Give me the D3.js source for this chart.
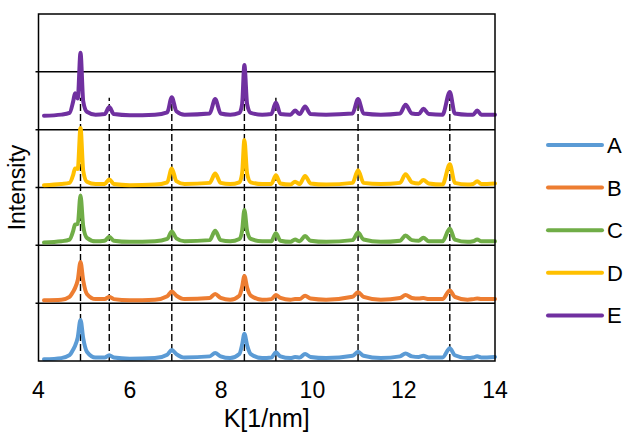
<!DOCTYPE html>
<html>
<head>
  <meta charset="UTF-8">
  <style>
    body { margin: 0; background: #fff; font-family: "Liberation Sans", Arial, sans-serif; }
    svg { display: block; }
  </style>
</head>
<body>
<svg id="chart" width="624" height="442"></svg>
<script src="https://d3js.org/d3.v7.min.js"></script>
<script>
  // sample positions along K (shared by all five spectra)
  var kValues = [4.12, 4.5, 4.68, 4.76, 4.80, 4.86, 4.92, 4.98, 5.06, 5.25,
                 5.45, 5.55, 5.65, 6.0, 6.55, 6.82, 6.92, 7.02, 7.2, 7.75,
                 7.87, 7.99, 8.2, 8.40, 8.46, 8.51, 8.57, 8.65, 8.9, 9.1,
                 9.2, 9.3, 9.52, 9.62, 9.72, 9.84, 9.96, 10.3, 10.88, 11.0,
                 11.12, 11.5, 11.92, 12.04, 12.18, 12.33, 12.43, 12.55, 12.85, 13.01,
                 13.12, 13.4, 13.52, 13.61, 13.7, 14.0];

  // intensity above each spectrum's own baseline
  var seriesA = [0.00, 0.02, 0.07, 0.17, 0.23, 0.38, 0.68, 0.36, 0.13, 0.03,
                 0.03, 0.07, 0.03, 0.01, 0.02, 0.08, 0.16, 0.09, 0.03, 0.05,
                 0.11, 0.05, 0.02, 0.09, 0.25, 0.44, 0.24, 0.09, 0.02, 0.03,
                 0.12, 0.05, 0.02, 0.04, 0.03, 0.09, 0.04, 0.02, 0.06, 0.13,
                 0.06, 0.02, 0.05, 0.10, 0.05, 0.04, 0.06, 0.03, 0.03, 0.19,
                 0.07, 0.02, 0.03, 0.05, 0.03, 0.04];
  var seriesB = [0.01, 0.02, 0.07, 0.16, 0.22, 0.36, 0.67, 0.35, 0.12, 0.03,
                 0.03, 0.07, 0.03, 0.01, 0.02, 0.08, 0.16, 0.09, 0.03, 0.05,
                 0.12, 0.05, 0.02, 0.09, 0.24, 0.43, 0.23, 0.09, 0.02, 0.03,
                 0.10, 0.05, 0.02, 0.03, 0.03, 0.09, 0.04, 0.02, 0.07, 0.15,
                 0.07, 0.02, 0.05, 0.10, 0.05, 0.04, 0.05, 0.03, 0.03, 0.18,
                 0.07, 0.02, 0.03, 0.04, 0.03, 0.03];
  var seriesC = [0.00, 0.02, 0.05, 0.20, 0.31, 0.32, 0.81, 0.28, 0.08, 0.02,
                 0.03, 0.10, 0.03, 0.01, 0.02, 0.06, 0.19, 0.07, 0.02, 0.04,
                 0.20, 0.04, 0.02, 0.06, 0.20, 0.56, 0.20, 0.06, 0.02, 0.02,
                 0.16, 0.03, 0.01, 0.05, 0.02, 0.11, 0.03, 0.01, 0.04, 0.17,
                 0.05, 0.01, 0.03, 0.12, 0.04, 0.03, 0.08, 0.02, 0.02, 0.24,
                 0.05, 0.01, 0.02, 0.05, 0.02, 0.02];
  var seriesD = [0.00, 0.02, 0.04, 0.18, 0.29, 0.28, 0.99, 0.25, 0.06, 0.02,
                 0.02, 0.10, 0.02, 0.00, 0.01, 0.05, 0.29, 0.07, 0.02, 0.04,
                 0.20, 0.04, 0.02, 0.05, 0.20, 0.78, 0.20, 0.05, 0.02, 0.02,
                 0.17, 0.03, 0.01, 0.06, 0.02, 0.16, 0.03, 0.01, 0.04, 0.26,
                 0.04, 0.02, 0.04, 0.19, 0.05, 0.03, 0.09, 0.03, 0.01, 0.36,
                 0.04, 0.01, 0.02, 0.07, 0.02, 0.03];
  var seriesE = [0.00, 0.02, 0.05, 0.25, 0.39, 0.30, 1.09, 0.25, 0.07, 0.02,
                 0.03, 0.15, 0.03, 0.01, 0.02, 0.06, 0.32, 0.08, 0.02, 0.04,
                 0.29, 0.04, 0.02, 0.05, 0.20, 0.88, 0.20, 0.05, 0.02, 0.03,
                 0.23, 0.03, 0.02, 0.09, 0.03, 0.16, 0.03, 0.02, 0.04, 0.29,
                 0.04, 0.02, 0.04, 0.19, 0.04, 0.03, 0.12, 0.03, 0.02, 0.41,
                 0.04, 0.02, 0.02, 0.09, 0.02, 0.02];

  var seriesNames = ["A", "B", "C", "D", "E"];
  var seriesColors = ["#5B9BD5", "#ED7D31", "#70AD47", "#FFC000", "#7030A0"];
  var offsets = [0.03, 1.04, 2.05, 3.04, 4.24];

  // reference peak positions (dashed guides)
  var markerK = [4.92, 5.55, 6.92, 8.51, 9.20, 11.0, 13.01];
  var markerTop = 4.55;

  var xTicks = [4, 6, 8, 10, 12, 14];
  var yGrid = [1, 2, 3, 4, 5];

  var allSeries = [seriesA, seriesB, seriesC, seriesD, seriesE];

  var svg = d3.select("#chart");
  var margin = {top: 14, right: 129, bottom: 81, left: 38.5};
  var width = 624 - margin.left - margin.right;
  var height = 442 - margin.top - margin.bottom;

  var x = d3.scaleLinear().domain([4, 14]).range([margin.left, margin.left + width]);
  var y = d3.scaleLinear().domain([0, 6]).range([margin.top + height, margin.top]);

  // horizontal gridlines with short outside ticks
  svg.append("g")
    .selectAll("line")
    .data(yGrid)
    .join("line")
      .attr("x1", margin.left - 3)
      .attr("x2", margin.left + width)
      .attr("y1", d => y(d))
      .attr("y2", d => y(d))
      .attr("stroke", "#000")
      .attr("stroke-width", 1.5);

  // dashed guides
  svg.append("g")
    .selectAll("line")
    .data(markerK)
    .join("line")
      .attr("x1", d => x(d))
      .attr("x2", d => x(d))
      .attr("y1", y(0))
      .attr("y2", y(markerTop))
      .attr("stroke", "#000")
      .attr("stroke-width", 1.4)
      .attr("stroke-dasharray", "7,3");

  var line = d3.line()
    .x((d, i) => x(kValues[i]))
    .curve(d3.curveMonotoneX);

  allSeries.forEach(function(s, j) {
    svg.append("path")
      .datum(s)
      .attr("fill", "none")
      .attr("stroke", seriesColors[j])
      .attr("stroke-width", 4)
      .attr("stroke-linejoin", "round")
      .attr("stroke-linecap", "round")
      .attr("d", line.y(d => y(d + offsets[j])));
  });

  // plot box
  svg.append("rect")
    .attr("x", margin.left)
    .attr("y", margin.top)
    .attr("width", width)
    .attr("height", height)
    .attr("fill", "none")
    .attr("stroke", "#000")
    .attr("stroke-width", 1.5);

  // x axis labels
  svg.append("g")
    .selectAll("text")
    .data(xTicks)
    .join("text")
      .attr("x", d => x(d))
      .attr("y", 398)
      .attr("text-anchor", "middle")
      .attr("font-size", 23)
      .attr("fill", "#000")
      .text(d => d);

  svg.append("text")
    .attr("x", margin.left + width / 2)
    .attr("y", 427)
    .attr("text-anchor", "middle")
    .attr("font-size", 25)
    .attr("fill", "#000")
    .text("K[1/nm]");

  svg.append("text")
    .attr("transform", "translate(25," + (margin.top + height / 2) + ") rotate(-90)")
    .attr("text-anchor", "middle")
    .attr("font-size", 23)
    .attr("fill", "#000")
    .text("Intensity");

  // legend
  var legend = svg.append("g")
    .selectAll("g")
    .data(seriesNames)
    .join("g")
      .attr("transform", (d, i) => "translate(548," + (145 + i * 42.6) + ")");

  legend.append("line")
    .attr("x1", 0)
    .attr("x2", 54)
    .attr("stroke", (d, i) => seriesColors[i])
    .attr("stroke-width", 4)
    .attr("stroke-linecap", "round");

  legend.append("text")
    .attr("x", 59)
    .attr("dy", "0.36em")
    .attr("font-size", 22)
    .attr("fill", "#000")
    .text(d => d);
</script>
</body>
</html>
